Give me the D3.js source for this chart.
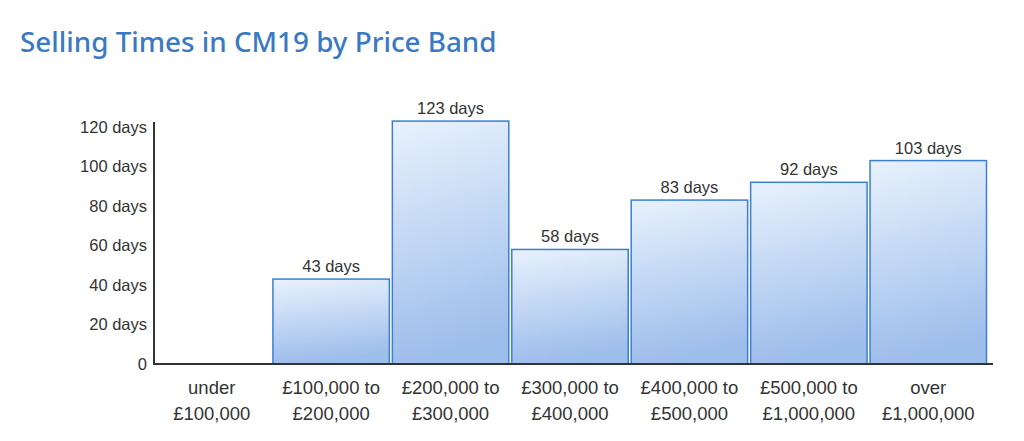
<!DOCTYPE html>
<html>
<head>
<meta charset="utf-8">
<script src="https://cdn.jsdelivr.net/npm/d3@7"></script>
<style>
  body { margin: 0; background: #fff; }
  svg { display: block; }
</style>
</head>
<body>
<svg id="chart" width="1024" height="441"></svg>
<script>
// price bands and selling times (days)
const bandLine1 = ["under", "£100,000 to", "£200,000 to", "£300,000 to", "£400,000 to", "£500,000 to", "over"];
const bandLine2 = ["£100,000", "£200,000", "£300,000", "£400,000", "£500,000", "£1,000,000", "£1,000,000"];
const sellingDays = [0, 43, 123, 58, 83, 92, 103];
const yTicks = [0, 20, 40, 60, 80, 100, 120];

const svg = d3.select("#chart");
const font = "'Liberation Sans', Arial, sans-serif";

// title
svg.append("text")
  .attr("x", 20).attr("y", 52)
  .attr("fill", "#3a79c3")
  .attr("font-family", "'Noto Sans', sans-serif")
  .attr("font-weight", 500)
  .attr("font-size", 27.8)
  .text("Selling Times in CM19 by Price Band");

const xScale = d3.scaleBand()
  .domain(d3.range(sellingDays.length))
  .range([152, 988])
  .paddingInner(0.025)
  .paddingOuter(0.0125);

const yScale = d3.scaleLinear().domain([0, 120]).range([364, 127]);

// bar gradient
const defs = svg.append("defs");
const grad = defs.append("linearGradient")
  .attr("id", "barGrad")
  .attr("x1", 0).attr("y1", 0).attr("x2", 0.15).attr("y2", 1);
grad.append("stop").attr("offset", "0%").attr("stop-color", "#e9f2fd");
grad.append("stop").attr("offset", "100%").attr("stop-color", "#9dbdeb");

// bars
const bars = sellingDays.map((d, i) => ({ d, i })).filter(o => o.d > 0);

svg.selectAll("rect.bar")
  .data(bars)
  .join("rect")
  .attr("class", "bar")
  .attr("x", o => xScale(o.i))
  .attr("y", o => yScale(o.d))
  .attr("width", xScale.bandwidth())
  .attr("height", o => yScale(0) - yScale(o.d))
  .attr("fill", "url(#barGrad)")
  .attr("stroke", "#3b7fd1")
  .attr("stroke-width", 1.5);

// value labels
svg.selectAll("text.val")
  .data(bars)
  .join("text")
  .attr("class", "val")
  .attr("x", o => xScale(o.i) + xScale.bandwidth() / 2)
  .attr("y", o => yScale(o.d) - 7)
  .attr("text-anchor", "middle")
  .attr("font-family", font)
  .attr("font-size", 16.5)
  .attr("fill", "#333")
  .text(o => o.d + " days");

// y axis labels
svg.selectAll("text.ytick")
  .data(yTicks)
  .join("text")
  .attr("class", "ytick")
  .attr("x", 147)
  .attr("y", d => yScale(d))
  .attr("dy", "0.35em")
  .attr("text-anchor", "end")
  .attr("font-family", font)
  .attr("font-size", 16.5)
  .attr("fill", "#333")
  .text(d => d === 0 ? "0" : d + " days");

// axis lines
svg.append("line")
  .attr("x1", 154).attr("x2", 154)
  .attr("y1", 122).attr("y2", 365)
  .attr("stroke", "#333").attr("stroke-width", 2);
svg.append("line")
  .attr("x1", 153).attr("x2", 993)
  .attr("y1", 364).attr("y2", 364)
  .attr("stroke", "#333").attr("stroke-width", 2);

// x labels
const xl = svg.selectAll("g.xl")
  .data(bandLine1)
  .join("g")
  .attr("class", "xl")
  .attr("transform", (d, i) => `translate(${xScale(i) + xScale.bandwidth() / 2},0)`);
xl.append("text")
  .attr("y", 394)
  .attr("text-anchor", "middle")
  .attr("font-family", font)
  .attr("font-size", 18.5)
  .attr("fill", "#333")
  .text(d => d);
xl.append("text")
  .attr("y", 420)
  .attr("text-anchor", "middle")
  .attr("font-family", font)
  .attr("font-size", 18.5)
  .attr("fill", "#333")
  .text((d, i) => bandLine2[i]);
</script>
</body>
</html>
